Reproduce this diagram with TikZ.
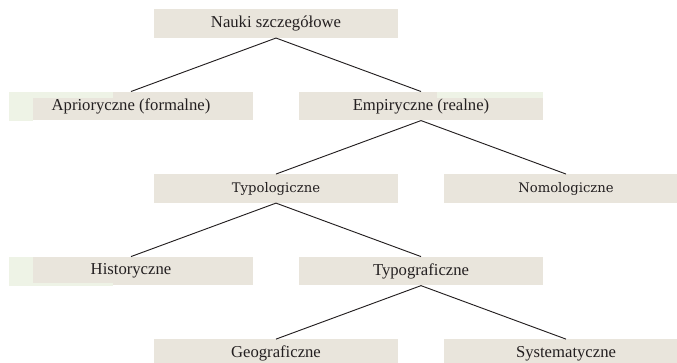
\documentclass[tikz,border=0pt]{standalone}
\usepackage{fontspec}
\setmainfont{Liberation Serif}
\newfontfamily\dejavuserif{DejaVu Serif}
\usetikzlibrary{positioning}
\definecolor{boxfill}{RGB}{233,229,220}
\definecolor{patchfill}{RGB}{238,243,230}
\definecolor{txt}{RGB}{35,31,32}

\begin{document}
\begin{tikzpicture}
    [nauka/.style={rectangle, fill=boxfill, text=txt, minimum height=21.4pt, minimum width=183pt, inner sep=0pt, font=\fontsize{12.5}{15}\selectfont},
     naukb/.style={nauka, font=\dejavuserif\fontsize{9.9}{12}\selectfont},
     patch/.style={fill=patchfill},
     link/.style={draw=txt, line width=0.7pt}]

    \node [nauka] (nauki) {Nauki szczegółowe};
    \node [nauka, below=40.1pt of nauki, xshift=-108.75pt] (apr) {Aprioryczne (formalne)};
    \node [nauka, below=40.1pt of nauki, xshift=108.75pt] (emp) {Empiryczne (realne)};
    \node [naukb, below=40.1pt of emp, xshift=-108.75pt] (typol) {Typologiczne};
    \node [naukb, below=40.1pt of emp, xshift=108.75pt] (nomol) {Nomologiczne};
    \node [nauka, below=40.1pt of typol, xshift=-108.75pt] (hist) {Historyczne};
    \node [nauka, below=40.1pt of typol, xshift=108.75pt] (typog) {Typograficzne};
    \node [nauka, below=40.1pt of typog, xshift=-108.75pt] (geo) {Geograficzne};
    \node [nauka, below=40.1pt of typog, xshift=108.75pt] (syst) {Systematyczne};

    \path [patch] (apr.north west) rectangle ([xshift=18pt] apr.south west);
    \path [patch] ([xshift=18pt] apr.north west) rectangle ([xshift=78pt, yshift=-4.5pt] apr.north west);
    \path [patch] ([xshift=-80pt] emp.north east) rectangle ([yshift=-5pt] emp.north east);
    \path [patch] (hist.north west) rectangle ([xshift=18pt] hist.south west);
    \path [patch] ([xshift=18pt, yshift=2.3pt] hist.south west) rectangle ([xshift=78pt] hist.south west);

    \draw [link] (nauki.south) -- (apr.north);
    \draw [link] (nauki.south) -- (emp.north);
    \draw [link] (emp.south) -- (typol.north);
    \draw [link] (emp.south) -- (nomol.north);
    \draw [link] (typol.south) -- (hist.north);
    \draw [link] (typol.south) -- (typog.north);
    \draw [link] (typog.south) -- (geo.north);
    \draw [link] (typog.south) -- (syst.north);

    \pgfresetboundingbox
    \useasboundingbox ([xshift=-207pt, yshift=17.625pt] nauki.center) rectangle ([xshift=300.75pt, yshift=-253.875pt] nauki.center);
\end{tikzpicture}
\end{document}
